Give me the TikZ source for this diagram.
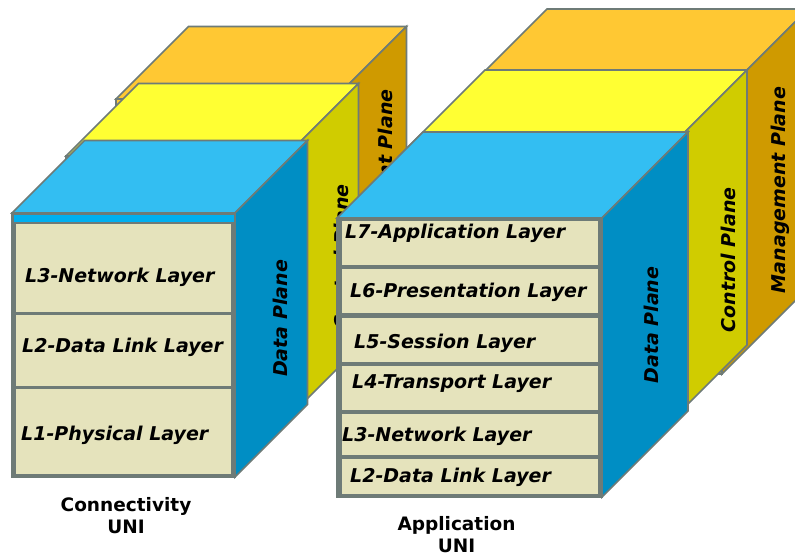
\documentclass[tikz,border=0pt]{standalone}
\usepackage{fontspec}
\setsansfont{DejaVu Sans}

\definecolor{edge}{HTML}{6E7B77}
\definecolor{bluetop}{HTML}{33BEF2}
\definecolor{blueside}{HTML}{008EC4}
\definecolor{stripblue}{HTML}{00B0F0}
\definecolor{yellowtop}{HTML}{FFFF33}
\definecolor{yellowside}{HTML}{D0CC00}
\definecolor{orangetop}{HTML}{FFC833}
\definecolor{orangeside}{HTML}{CF9A00}
\definecolor{beige}{HTML}{E5E3BC}

% planecube{x}{y}{width}{height}{depth}{top}{side}{front}
% (x,y) is the top-left corner of the front face, y grows downwards
\newcommand\planecube[8]{%
  \filldraw[face, fill=#8] (#1,#2) rectangle ({#1+#3},{#2+#4});
  \filldraw[face, fill=#6] (#1,#2) -- ({#1+#5},{#2-#5})
    -- ({#1+#3+#5},{#2-#5}) -- ({#1+#3},#2) -- cycle;
  \filldraw[face, fill=#7] ({#1+#3},#2) -- ({#1+#3+#5},{#2-#5})
    -- ({#1+#3+#5},{#2+#4-#5}) -- ({#1+#3},{#2+#4}) -- cycle;
}

\tikzset{
  face/.style={draw=edge, line width=1.6pt, line join=miter},
  layerbox/.style={fill=beige, draw=edge, line width=1.6pt},
  layertext/.style={font=\sffamily\bfseries\itshape\fontsize{19}{22}\selectfont,
    anchor=base west, inner sep=0pt},
  planetext/.style={font=\sffamily\bfseries\itshape\fontsize{19}{22}\selectfont,
    rotate=90, anchor=base, inner sep=0pt},
  unilabel/.style={font=\sffamily\bfseries\fontsize{18.5}{22}\selectfont,
    align=center, anchor=north, inner sep=0pt},
}

\begin{document}
\begin{tikzpicture}[x=1pt, y=-1pt]
\clip (0,0) rectangle (795,557);
\fill[white] (0,0) rectangle (795,557);

% ---------- Connectivity UNI ----------
\planecube{116}{99}{218}{264}{72.5}{orangetop}{orangeside}{orangetop}
\node[planetext] (cmgmt) at (392,192.5) {Management Plane};

\planecube{66}{156}{220}{264}{72.5}{yellowtop}{yellowside}{yellowtop}
\node[planetext] (cctrl) at (348.5,257) {Control Plane};

\planecube{12}{213}{223}{264}{72.5}{bluetop}{blueside}{edge}
\node[planetext] (cdata) at (287,318.5) {Data Plane};

\fill[stripblue] (14,214.5) rectangle (233.5,222);
\draw[layerbox] (15,223) rectangle (232,313);
\draw[layerbox] (15,314.5) rectangle (232,387);
\draw[layerbox] (15,388.5) rectangle (232,475);
\node[layertext] (cl3) at (25,282) {L3-Network Layer};
\node[layertext] (cl2) at (22,352) {L2-Data Link Layer};
\node[layertext] (cl1) at (21,440) {L1-Physical Layer};

\node[unilabel] (conn) at (126,497.5) {Connectivity\\UNI};

% ---------- Application UNI ----------
\planecube{461}{95}{261}{279}{86}{orangetop}{orangeside}{orangetop}
\node[planetext] (amgmt) at (785,190) {Management Plane};

\planecube{399}{156}{262}{275}{86}{yellowtop}{yellowside}{yellowtop}
\node[planetext] (actrl) at (735,260) {Control Plane};

\planecube{337}{218}{265}{279}{86}{bluetop}{blueside}{edge}
\node[planetext] (adata) at (658,325) {Data Plane};

\draw[layerbox] (341,220.5) rectangle (599,266);
\draw[layerbox] (341,268) rectangle (599,314);
\draw[layerbox] (341,317) rectangle (599,363);
\draw[layerbox] (341,365) rectangle (599,411);
\draw[layerbox] (341,413) rectangle (599,456);
\draw[layerbox] (341,458) rectangle (599,494.5);
\node[layertext] (al7) at (345,238) {L7-Application Layer};
\node[layertext] (al6) at (350,297) {L6-Presentation Layer};
\node[layertext] (al5) at (354,348) {L5-Session Layer};
\node[layertext] (al4) at (352,388) {L4-Transport Layer};
\node[layertext] (al3) at (342,441) {L3-Network Layer};
\node[layertext] (al2) at (350,482) {L2-Data Link Layer};

\node[unilabel] (appl) at (456.5,516) {Application\\UNI};
\end{tikzpicture}
\end{document}
